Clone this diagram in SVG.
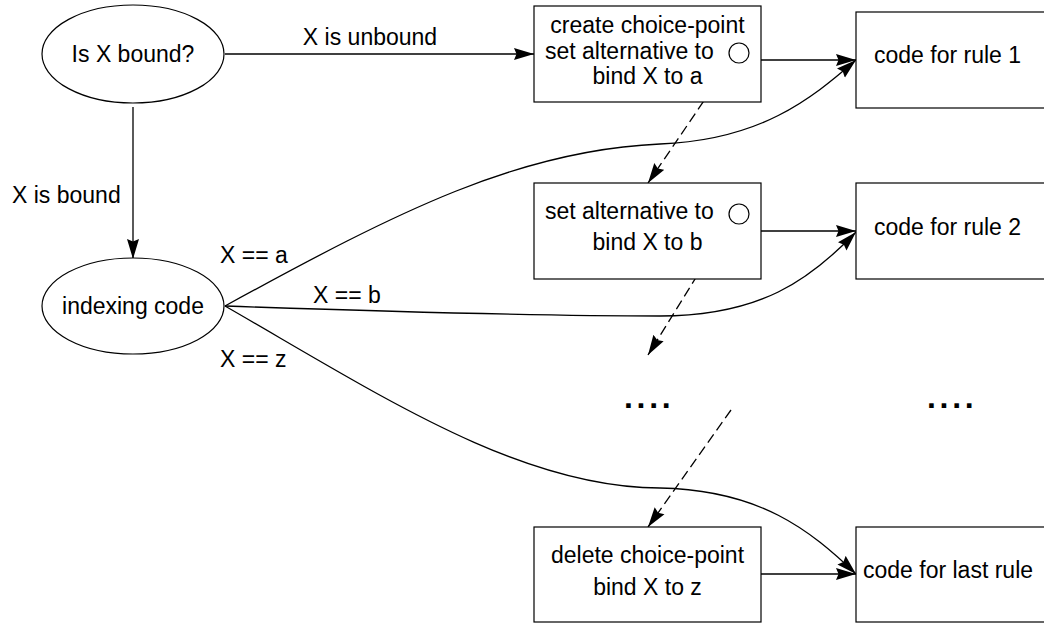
<svg xmlns="http://www.w3.org/2000/svg" width="1044" height="623" viewBox="0 0 1044 623">
<style>
  .shape { fill: #fff; stroke: #000; stroke-width: 1.2; }
  .lbl { font-family: "Liberation Sans", Arial, sans-serif; font-size: 23px; fill: #000; }
  .mid { text-anchor: middle; }
  .edge { fill: none; stroke: #000; stroke-width: 1.3; marker-end: url(#arr); }
  .dash { stroke-dasharray: 10 5; }
  .dots { font-family: "Liberation Sans", Arial, sans-serif; font-size: 32px; font-weight: bold; letter-spacing: 3.7px; fill: #000; }
</style>
<defs>
  <marker id="arr" markerUnits="userSpaceOnUse" markerWidth="22" markerHeight="14" refX="20" refY="6.5" orient="auto">
    <path d="M0,0.5 L20,6.5 L0,12.5 L2.5,6.5 z" fill="#000"/>
  </marker>
</defs>
<rect width="1044" height="623" fill="#fff"/>

<g id="connectors">
  <path class="edge" d="M225,54 L534,54"/>
  <path class="edge" d="M133,107 L133,259"/>
  <path class="edge" d="M761,60 L856,60"/>
  <path class="edge" d="M761,231 L856,231"/>
  <path class="edge" d="M761,574 L856,574"/>
  <path class="edge" d="M225,306 C400,210 520,150 660,144 C760,140 810,100 856,60"/>
  <path class="edge" d="M225,306 C400,312 550,316 660,316 C760,316 810,280 856,232"/>
  <path class="edge" d="M225,306 C380,395 520,488 660,488 C760,490 810,530 856,574"/>
  <path class="edge dash" d="M729,64 L648,183"/>
  <path class="edge dash" d="M729,224 L648,355"/>
  <path class="edge dash" d="M731,410 L648,527"/>
  <text class="lbl mid" x="370" y="45">X is unbound</text>
  <text class="lbl" x="12" y="203">X is bound</text>
  <text class="lbl" x="220" y="263">X == a</text>
  <text class="lbl" x="313" y="303">X == b</text>
  <text class="lbl" x="220" y="367">X == z</text>
</g>

<g id="is-bound">
  <ellipse class="shape" cx="133" cy="54" rx="91" ry="49"/>
  <text class="lbl mid" x="133" y="62">Is X bound?</text>
</g>
<g id="indexing">
  <ellipse class="shape" cx="133" cy="306" rx="91" ry="48"/>
  <text class="lbl mid" x="133" y="314">indexing code</text>
</g>
<g id="create-cp">
  <rect class="shape" x="534" y="6" width="227" height="96"/>
  <text class="lbl mid" x="647.5" y="33">create choice-point</text>
  <text class="lbl" x="545" y="59">set alternative to</text>
  <text class="lbl mid" x="647.5" y="84">bind X to a</text>
  <circle class="shape" cx="739" cy="53" r="10"/>
</g>
<g id="set-alt">
  <rect class="shape" x="534" y="183" width="227" height="96"/>
  <text class="lbl" x="545" y="219">set alternative to</text>
  <text class="lbl mid" x="647.5" y="250">bind X to b</text>
  <circle class="shape" cx="739" cy="214" r="10"/>
</g>
<g id="delete-cp">
  <rect class="shape" x="534" y="527" width="227" height="95"/>
  <text class="lbl mid" x="647.5" y="563">delete choice-point</text>
  <text class="lbl mid" x="647.5" y="595">bind X to z</text>
</g>
<g id="rule1">
  <rect class="shape" x="856" y="12" width="200" height="96"/>
  <text class="lbl" x="874" y="63">code for rule 1</text>
</g>
<g id="rule2">
  <rect class="shape" x="856" y="183" width="200" height="96"/>
  <text class="lbl" x="874" y="235">code for rule 2</text>
</g>
<g id="last-rule">
  <rect class="shape" x="856" y="527" width="200" height="95"/>
  <text class="lbl" x="863" y="578">code for last rule</text>
</g>
<g id="ellipsis-left">
  <text class="dots" x="624" y="408">....</text>
</g>
<g id="ellipsis-right">
  <text class="dots" x="927" y="408">....</text>
</g>
</svg>
